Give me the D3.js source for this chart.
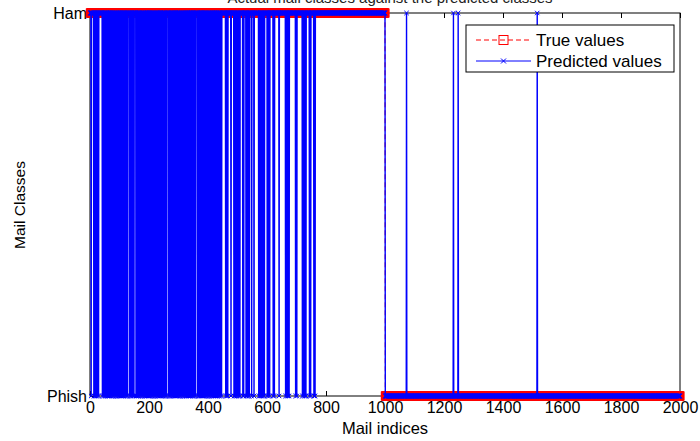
<!DOCTYPE html>
<html>
<head>
<meta charset="utf-8">
<script src="https://cdnjs.cloudflare.com/ajax/libs/d3/7.8.5/d3.min.js"></script>
<style>
body { margin: 0; background: #fff; }
svg { display: block; font-family: "Liberation Sans", Arial, sans-serif; }
</style>
</head>
<body>
<svg id="canvas"></svg>
<script>
// classes on the y axis, top to bottom
const classes = ["Ham", "Phish"]
const xTicks = [0, 200, 400, 600, 800, 1000, 1200, 1400, 1600, 1800, 2000]
const sampleCount = 2000

// true labels as runs of mail indices
const trueRuns = [
    { from: 1, to: 1000, cls: "Ham" },
    { from: 1001, to: 2000, cls: "Phish" }
]

// Ham mails the model put in Phish (estimated)
const hamMisread = [
    4, 13, 17, 21, 25, 29,
    42, 46, 50, 53, 57, 61, 64, 68, 72, 76, 79, 83, 87, 90, 94, 98, 101, 105, 109, 112, 116, 120, 124, 127,
    134, 138, 141, 145, 149,
    156, 160, 163, 167, 171, 175, 178, 182, 186, 189, 193, 197, 200, 204, 208, 211, 215, 219, 222, 226, 230, 233, 237, 241, 245, 248, 252, 256, 259,
    266, 270, 273, 277, 281, 284, 288, 292, 295, 299, 303, 306, 310, 314, 317, 321, 325, 328, 332, 336, 339, 343, 347, 350, 354, 358,
    365, 369, 372, 376, 380, 383, 387, 391, 394, 398, 402, 405, 409, 413, 416, 420, 424, 427, 431, 435, 438, 442, 446,
    460, 464, 467, 478, 488, 492, 496, 500, 504, 508, 518, 521, 529, 533, 537, 540, 548, 556,
    572, 576, 580, 584, 588, 591, 601, 605, 609, 621, 625, 641, 663, 667, 671, 675,
    697, 701, 720, 724, 728, 732, 744, 748, 759, 763
]
// Phish mails the model put in Ham
const phishMisread = [1073, 1232, 1248, 1516]

const titleText = "Actual mail classes against the predicted classes"
const legendLabels = ["True values", "Predicted values"]

const width = 700
const height = 441

let canvas = d3.select('#canvas')
canvas.attr('width', width).attr('height', height)

let xScale = d3.scaleLinear().domain([0, sampleCount]).range([90, 680])
let yScale = d3.scalePoint().domain(classes).range([13, 396])

let trueValues = []
trueRuns.forEach(run => {
    d3.range(run.from, run.to + 1).forEach(i => trueValues.push({ i: i, cls: run.cls }))
})
let missSet = new Set(hamMisread.concat(phishMisread))
let predValues = trueValues.map(d => ({
    i: d.i,
    cls: missSet.has(d.i) ? (d.cls === "Ham" ? "Phish" : "Ham") : d.cls
}))

// title, mostly cut off by the top edge like the original
canvas.append('text')
    .attr('x', 390).attr('y', 2.5)
    .attr('text-anchor', 'middle')
    .attr('font-size', 15)
    .attr('fill', '#222')
    .text(titleText)

// axes
let xAxis = d3.axisBottom(xScale).tickValues(xTicks).tickFormat(d3.format('d'))
    .tickSizeInner(-5).tickSizeOuter(0).tickPadding(6)
let gx = canvas.append('g').attr('transform', 'translate(0,396)').call(xAxis)
gx.select('.domain').remove()
gx.selectAll('text').attr('font-size', 16).attr('font-family', null).attr('fill', '#000')

let gxTop = canvas.append('g').attr('transform', 'translate(0,13)')
    .call(d3.axisTop(xScale).tickValues(xTicks).tickSizeInner(-5).tickSizeOuter(0).tickFormat(''))
gxTop.select('.domain').remove()

let gy = canvas.append('g').attr('transform', 'translate(90,0)')
    .call(d3.axisLeft(yScale).tickSizeInner(-5).tickSizeOuter(0).tickPadding(3))
gy.select('.domain').remove()
gy.selectAll('text').attr('font-size', 16).attr('font-family', null).attr('fill', '#000')

canvas.append('rect')
    .attr('x', 90).attr('y', 13)
    .attr('width', 590).attr('height', 383)
    .attr('fill', 'none').attr('stroke', '#000').attr('stroke-width', 1)

canvas.append('text')
    .attr('x', 385).attr('y', 434)
    .attr('text-anchor', 'middle').attr('font-size', 16.5)
    .text('Mail indices')

canvas.append('text')
    .attr('transform', 'translate(25,205) rotate(-90)')
    .attr('text-anchor', 'middle').attr('font-size', 15.5)
    .text('Mail Classes')

let line = d3.line().x(d => xScale(d.i)).y(d => yScale(d.cls))

// true values: red dashed with squares
canvas.append('path')
    .datum(trueValues)
    .attr('d', line)
    .attr('fill', 'none').attr('stroke', '#ff0000').attr('stroke-width', 1)
    .attr('stroke-dasharray', '5,3')

canvas.append('g').selectAll('rect')
    .data(trueValues)
    .enter()
    .append('rect')
    .attr('x', d => xScale(d.i) - 4)
    .attr('y', d => yScale(d.cls) - 4)
    .attr('width', 8).attr('height', 8)
    .attr('fill', 'none').attr('stroke', '#ff0000').attr('stroke-width', 1)

// predicted values: blue solid with x marks
canvas.append('path')
    .datum(predValues)
    .attr('d', line)
    .attr('fill', 'none').attr('stroke', '#0000ff').attr('stroke-width', 1.4)

let cross = (cx, cy, r) => `M${cx - r},${cy - r}L${cx + r},${cy + r}M${cx - r},${cy + r}L${cx + r},${cy - r}`

canvas.append('g').selectAll('path')
    .data(predValues)
    .enter()
    .append('path')
    .attr('d', d => cross(xScale(d.i), yScale(d.cls), 2.2))
    .attr('fill', 'none').attr('stroke', '#0000ff').attr('stroke-width', 1)

// legend
let legend = canvas.append('g')
legend.append('rect')
    .attr('x', 466).attr('y', 25).attr('width', 208).attr('height', 47)
    .attr('fill', '#fff').attr('stroke', '#000').attr('stroke-width', 1)

legend.append('line')
    .attr('x1', 476).attr('x2', 531).attr('y1', 40).attr('y2', 40)
    .attr('stroke', '#ff0000').attr('stroke-dasharray', '5,3')
legend.append('rect')
    .attr('x', 499).attr('y', 35.5).attr('width', 9).attr('height', 9)
    .attr('fill', 'none').attr('stroke', '#ff0000')
legend.append('line')
    .attr('x1', 476).attr('x2', 531).attr('y1', 61).attr('y2', 61)
    .attr('stroke', '#0000ff')
legend.append('path')
    .attr('d', cross(503.5, 61, 2.5))
    .attr('fill', 'none').attr('stroke', '#0000ff')

legend.selectAll('text.label')
    .data(legendLabels)
    .enter()
    .append('text')
    .attr('class', 'label')
    .attr('x', 536)
    .attr('y', (d, k) => 46 + k * 21)
    .attr('font-size', 17)
    .text(d => d)
</script>
</body>
</html>
